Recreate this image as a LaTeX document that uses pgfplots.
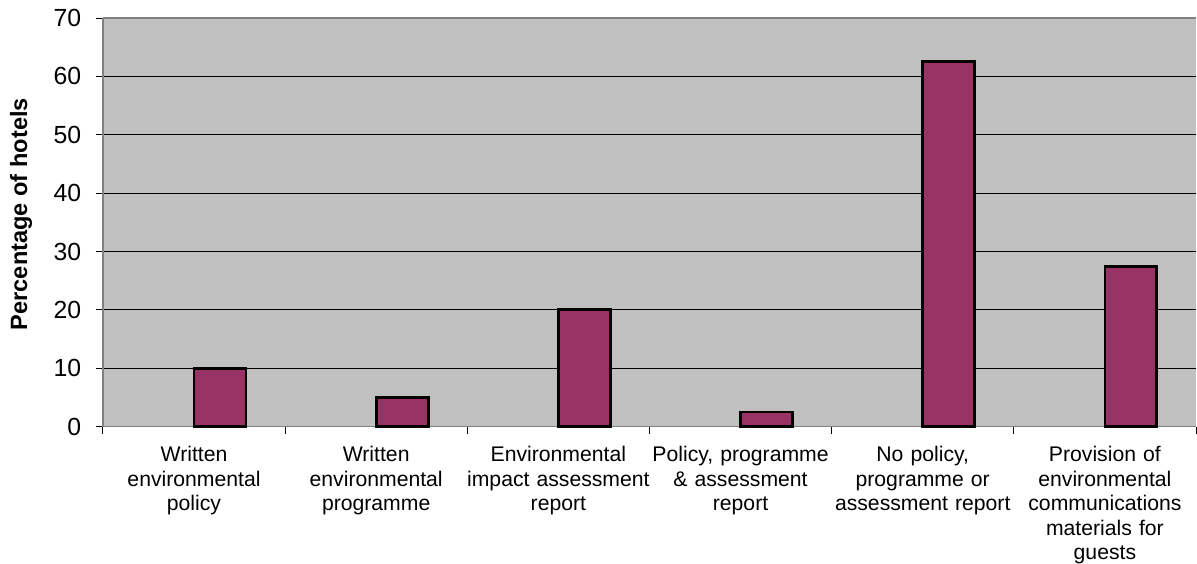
\documentclass[border=0pt]{standalone}
\usepackage{fontspec}
\setmainfont{Liberation Sans}
\usepackage{pgfplots}
\pgfplotsset{compat=1.18}

\definecolor{plotbg}{HTML}{C0C0C0}
\definecolor{barfill}{HTML}{993366}
\definecolor{axisgray}{HTML}{808080}

\begin{document}
\begin{tikzpicture}
\useasboundingbox (-51.5pt,-68.5pt) rectangle (547.5pt,213.5pt);
\begin{axis}[
    scale only axis,
    width=547pt, height=204.5pt,
    xmin=-0.5, xmax=5.5,
    ymin=0, ymax=70,
    ytick={0,10,...,70},
    xtick={0,...,5},
    xticklabels={
        Written\\environmental\\policy,
        Written\\environmental\\programme,
        Environmental\\impact assessment\\report,
        {Policy, programme\\\& assessment\\report},
        {No policy,\\programme or\\assessment report},
        Provision of\\environmental\\communications\\materials for\\guests},
    minor xtick={-0.5,0.5,...,5.5},
    major x tick style={draw=none},
    minor tick length=3.5pt,
    major tick length=3.3pt,
    tick align=outside,
    xtick pos=bottom, ytick pos=left,
    tick style={black, line width=0.5pt},
    ymajorgrids=true,
    grid style={black, line width=0.5pt},
    axis background/.style={fill=plotbg},
    axis line style={axisgray, line width=0.8pt},
    axis x line*=bottom,
    axis y line*=left,
    xticklabel style={align=center, text width=96pt, font=\fontsize{10.6}{12.25}\selectfont, yshift=-3pt},
    yticklabel style={font=\fontsize{12.4}{14}\selectfont, xshift=-4pt},
    /pgf/number format/assume math mode=true,
    ylabel={\textbf{Percentage of hotels}},
    every axis y label/.style={at={(rel axis cs:0,0.52)}, rotate=90, anchor=center, yshift=41pt, font=\fontsize{11.8}{13}\selectfont},
    ybar, bar width=0.285, bar shift=0.1425,
    clip=false,
]
\addplot[fill=barfill, draw=black, line width=1.4pt] coordinates {
    (0,10) (1,5) (2,20) (3,2.5) (4,62.5) (5,27.5)
};
\draw[axisgray, line width=0.8pt] (rel axis cs:0,1) -- (rel axis cs:1,1);
\end{axis}
\end{tikzpicture}
\end{document}
